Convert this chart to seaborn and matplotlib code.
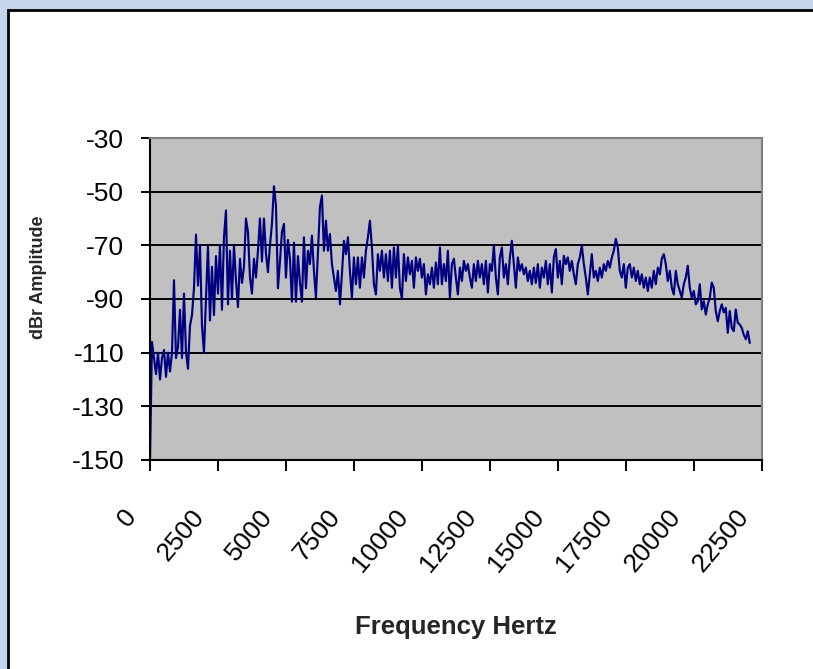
import numpy as np
import pandas as pd
import matplotlib
matplotlib.use("Agg")
import matplotlib.pyplot as plt
import matplotlib.transforms as mtransforms
from matplotlib.patches import Rectangle
import seaborn as sns

# ---------------- data ----------------
bin_width_hz = 73.5  # spacing of spectrum bins
amplitude_dbr = [
    -150, -106, -112, -118, -110, -120, -112, -109, -119, -110, -117,
    -110, -83, -112, -108, -94, -112, -88, -110, -116, -100,
    -96, -86, -66, -85, -70, -100, -110, -90, -70, -98,
    -78, -96, -74, -88, -70, -94, -67, -57, -92, -72,
    -90, -70, -83, -93, -75, -84, -78, -60, -65, -82,
    -88, -75, -82, -72, -60, -76, -60, -73, -80, -70,
    -62, -48, -55, -86, -76, -65, -62, -82, -68, -75,
    -91, -69, -91, -74, -84, -91, -67, -86, -72, -77,
    -66.4, -79.5, -89.5, -73, -55.8, -51.4, -72, -60.8, -72, -65.8,
    -77, -82, -87, -79.5, -92, -80.8, -68.3, -73.3, -67, -79.5,
    -89.5, -74.5, -84.5, -74.5, -85.8, -74.5, -82, -72, -67, -60.8,
    -70.8, -84.5, -88.3, -73.3, -79.5, -72, -82, -73.3, -83.3, -72,
    -85.8, -70.8, -82, -70, -85.8, -90, -73.3, -83.3, -74.5, -80.8,
    -75.8, -85.8, -74.5, -79.5, -75, -82, -77, -88.3, -80.8, -84.5,
    -78.3, -85.8, -76.4, -84.5, -70.8, -84.5, -77, -83.3, -72, -89.5,
    -77, -75, -82, -88.3, -78.3, -83.3, -75.8, -79.5, -77, -82,
    -85.8, -77, -83.3, -75.8, -82, -77, -84.5, -75.8, -87.6, -77,
    -79.5, -70, -82, -88.3, -74.5, -70.8, -82, -77, -84.5, -74.5,
    -68.3, -77, -85.8, -74.5, -79.5, -77, -80.8, -78.3, -83.3, -79.5,
    -84.5, -78.3, -84, -77, -85.8, -78.3, -82, -75.8, -84.5, -77,
    -87.6, -74.5, -71.4, -82, -75.8, -84.5, -73.9, -77, -74.5, -79.5,
    -75.8, -80.8, -84.5, -77, -74.5, -70, -77, -82, -88.3, -80.8,
    -73.3, -82, -79.5, -83.3, -78.3, -82, -77, -79.5, -75.8, -78.3,
    -74.5, -72, -67.6, -70.8, -79.5, -82, -77, -85.8, -78.3, -77,
    -82, -78.3, -83.3, -79.5, -84.5, -80.8, -85.8, -82, -87, -82,
    -85.8, -79.5, -84.5, -78.3, -80.8, -75, -73.3, -77, -83.3, -79.5,
    -85.8, -88.3, -79.5, -84.5, -87, -89.5, -84.5, -82, -77.6, -85.8,
    -89.5, -87, -92, -90.8, -84.5, -93.9, -90.8, -95.8, -92, -89.5,
    -83.9, -85.8, -94.5, -98.3, -94.5, -92, -95, -93.3, -102.6, -94.5,
    -100.8, -102, -93.9, -98.9, -99.5, -100.8, -103.3, -105, -102, -106.4,
]
x_ticks = [0, 2500, 5000, 7500, 10000, 12500, 15000, 17500, 20000, 22500]
y_ticks = [-150, -130, -110, -90, -70, -50, -30]

df = pd.DataFrame({
    "Frequency Hertz": np.arange(len(amplitude_dbr)) * bin_width_hz,
    "dBr Amplitude": amplitude_dbr,
})

# ---------------- style ----------------
sns.set_style("ticks")
plt.rcParams["font.family"] = ["Liberation Sans", "DejaVu Sans"]

W, H = 813, 669
fig = plt.figure(figsize=(W / 100, H / 100), dpi=100)
fig.patch.set_facecolor("#C6D4EE")
panel = Rectangle((8 / W, -0.2), 1.3, (H - 10) / H + 0.2,
                  transform=fig.transFigure, facecolor="white",
                  edgecolor="black", linewidth=2.0, zorder=0)
fig.add_artist(panel)

ax = fig.add_axes([150 / W, 1 - 460 / H, 612 / W, 322 / H])
ax.set_facecolor("#C0C0C0")

sns.lineplot(data=df, x="Frequency Hertz", y="dBr Amplitude", ax=ax,
             color="#000080", linewidth=1.55, sort=False)

ax.set_xlim(0, 22500)
ax.set_ylim(-150, -30)
ax.set_xticks(x_ticks)
ax.set_yticks(y_ticks)
ax.set_yticklabels([str(v) for v in y_ticks])
ax.set_xticklabels([str(v) for v in x_ticks])

ax.yaxis.grid(True, color="black", linewidth=1.4)
ax.xaxis.grid(False)
ax.set_axisbelow(True)

for s in ("left", "bottom"):
    ax.spines[s].set_color("black")
    ax.spines[s].set_linewidth(1.5)
for s in ("top", "right"):
    ax.spines[s].set_color("#808080")
    ax.spines[s].set_linewidth(1.5)

ax.tick_params(axis="y", direction="out", length=6.5, width=1.4,
               pad=12, colors="black")
ax.tick_params(axis="x", direction="out", length=8, width=1.4,
               pad=30, colors="black")

for lab in ax.get_yticklabels():
    lab.set_fontsize(19)

shift = mtransforms.ScaledTranslation(-13 / 72, 0, fig.dpi_scale_trans)
for lab in ax.get_xticklabels():
    lab.set_fontsize(19)
    lab.set_rotation(50)
    lab.set_ha("right")
    lab.set_va("center")
    lab.set_rotation_mode("anchor")
    lab.set_transform(lab.get_transform() + shift)

ax.set_xlabel("Frequency Hertz", fontsize=18.5, fontweight="bold",
              va="baseline")
ax.xaxis.set_label_coords(0.5, (460 - 634) / 322)
ax.set_ylabel("dBr Amplitude", fontsize=13, fontweight="bold", va="center")
ax.yaxis.set_label_coords((38 - 150) / 612, (460 - 277) / 322)

fig.savefig("out.png", dpi=100, facecolor=fig.get_facecolor())
